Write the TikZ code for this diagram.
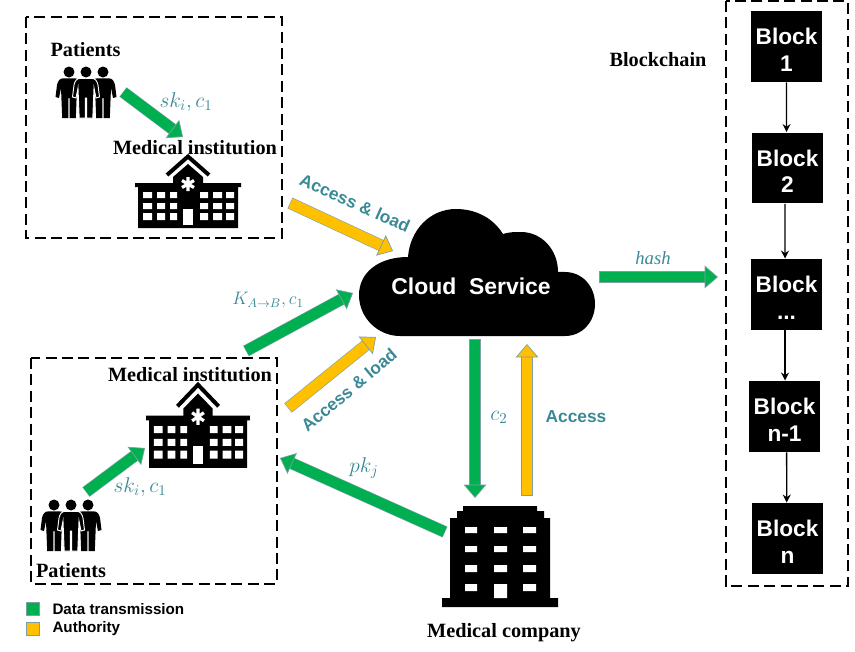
\documentclass[tikz,border=0pt]{standalone}
\usepackage{fix-cm}
\usepackage{fontspec}
\setmainfont{Liberation Serif}
\setsansfont{Liberation Sans}
\usetikzlibrary{arrows.meta}

\definecolor{flowgreen}{RGB}{0,176,80}
\definecolor{flowamber}{RGB}{255,192,0}
\definecolor{flowedge}{RGB}{127,159,168}
\definecolor{labelteal}{RGB}{58,138,150}

\newcommand{\blocktext}[2]{\rule{0pt}{17pt}#1\\#2}

\tikzset{every picture/.style={line width=0.75pt},
    fatarrow/.style={line width=8pt,color=#1,shorten <=.4pt,
        -{Triangle[length=10pt,width=17pt,fill=#1,color=flowedge,line width=.5pt]},
        preaction={draw=flowedge,line width=8.9pt,shorten >=6pt,shorten <=0pt,arrows=-}},
    dashbox/.style={draw=black,line width=1.4pt,dash pattern=on 8.3pt off 4pt},
    blockbox/.style={fill=black,text=white,font=\sffamily\bfseries\fontsize{17}{20}\selectfont,
        align=center,minimum width=53.2pt,minimum height=53.2pt,inner sep=0pt},
    blocklink/.style={line width=1pt,-{Stealth[length=6pt,width=6pt]}},
    titletext/.style={font=\rmfamily\bfseries\fontsize{15.2}{18}\selectfont,inner sep=0pt},
    tealmath/.style={text=labelteal,font=\fontsize{16}{19}\selectfont,inner sep=0pt},
    tealsans/.style={text=labelteal,font=\sffamily\bfseries\fontsize{13}{15}\selectfont,inner sep=0pt},
    legendtext/.style={font=\sffamily\bfseries\fontsize{11.4}{13}\selectfont,anchor=west,inner sep=0pt},
    legendkey/.style={draw=flowedge,line width=.6pt,minimum size=9.6pt,inner sep=0pt},
    pics/person/.style={code={
        \fill (0,0) circle (5.5);
        \path[#1] (-5.5,6.3) -- (5.5,6.3) .. controls (9.5,6.3) and (11,9) .. (12,13) -- (13.5,25) -- (10,26) -- (8,16) -- (6.8,46) -- (0.6,46) -- (0.6,26) -- (-0.6,26) -- (-0.6,46) -- (-6.8,46) -- (-8,16) -- (-10,26) -- (-13.5,25) -- (-12,13) .. controls (-11,9) and (-9.5,6.3) .. (-5.5,6.3) -- cycle;
    }},
    pics/hospital/.style={code={
        \draw[line width=3pt,miter limit=10] (-21,20) -- (0,1.5) -- (21,20);
        \fill (-15,29) -- (-15,22) -- (0,9) -- (15,22) -- (15,29) -- cycle;
        \fill (-53,28) -- (53,28) -- (53,32) -- (50,32) -- (50,73) -- (-50,73) -- (-50,32) -- (-53,32) -- cycle;
        \draw[white,line width=2.4pt] (0,22) -- (0,36) (-6,25.5) -- (6,32.5) (-6,32.5) -- (6,25.5);
        \fill[white] (-45,37) rectangle (-36,43) (-31,37) rectangle (-23,43) (-18,37) rectangle (-11,43) (12,37) rectangle (20,43) (25,37) rectangle (34,43) (38,37) rectangle (46,43);
        \fill[white] (-45,48) rectangle (-36,54) (-31,48) rectangle (-23,54) (-18,48) rectangle (-11,54) (12,48) rectangle (20,54) (25,48) rectangle (34,54) (38,48) rectangle (46,54);
        \fill[white] (-45,58) rectangle (-36,65) (-31,58) rectangle (-23,65) (-18,58) rectangle (-11,65) (12,58) rectangle (20,65) (25,58) rectangle (34,65) (38,58) rectangle (46,65);
        \fill[white] (-5,54) rectangle (5,70);
    }},
}

\begin{document}
\begin{tikzpicture}[x=0.75pt,y=0.75pt,yscale=-1,xscale=1]
    \useasboundingbox (0,0) rectangle (855,651);

    %Dashed frames
    \draw[dashbox] (26,17) rectangle (282,238);
    \draw[dashbox] (31,358) rectangle (277,584);
    \draw[dashbox] (726,1) rectangle (848,586);

    %Cloud
    \fill (400,336) .. controls (378,336) and (359,318) .. (359,295) .. controls (359,273) and (378,257) .. (408,257) .. controls (410,230) and (430,209) .. (456,209) .. controls (476,209) and (493,218) .. (503,234) .. controls (509,232) and (515,232) .. (521,232) .. controls (542,232) and (558,250) .. (558,272) .. controls (561,271.5) and (563,272) .. (565,272) .. controls (582,272) and (595,286) .. (595,304) .. controls (595,322) and (582,336) .. (565,336) -- cycle;
    \node[text=white,font=\sffamily\bfseries\fontsize{17.2}{20}\selectfont,inner sep=0pt] (cloudtxt) at (471,286) {Cloud\ \ Service};

    %Icons
    \pic[yscale=-1] at (69,72) {person={fill=black}};
    \pic[yscale=-1] at (103,72) {person={fill=black}};
    \pic[yscale=-1] at (86,72) {person={fill=black,draw=white,line width=.7pt}};
    \pic[yscale=-1] at (54,505) {person={fill=black}};
    \pic[yscale=-1] at (88,505) {person={fill=black}};
    \pic[yscale=-1] at (71,505) {person={fill=black,draw=white,line width=.7pt}};
    \pic[yscale=-1] at (188,155) {hospital};
    \pic[yscale=-1.164,xscale=.98] at (198,383) {hospital};

    %Company building
    \fill (442,598) -- (450,598) -- (450,518) -- (457,518) -- (457,511) -- (463,511) -- (463,506) -- (537,506) -- (537,511) -- (544,511) -- (544,518) -- (550,518) -- (550,598) -- (558,598) -- (558,607) -- (442,607) -- cycle;
    \fill[white] (465,527) rectangle (477,533) (494,527) rectangle (507,533) (523,527) rectangle (536,533);
    \fill[white] (465,546) rectangle (477,552) (494,546) rectangle (507,552) (523,546) rectangle (536,552);
    \fill[white] (465,565) rectangle (477,572) (494,565) rectangle (507,572) (523,565) rectangle (536,572);
    \fill[white] (465,584) rectangle (477,591) (494,584) rectangle (507,598) (523,584) rectangle (536,591);

    %Block nodes
    \node[blockbox] (block1) at (786.5,46.5) {\blocktext{Block}{1}};
    \node[blockbox] (block2) at (787.5,168) {\blocktext{Block}{2}};
    \node[blockbox] (block3) at (786.5,294.5) {\blocktext{Block}{...}};
    \node[blockbox] (block4) at (784.5,416.5) {\blocktext{Block}{n-1}};
    \node[blockbox] (block5) at (787.5,538.5) {\blocktext{Block}{n}};

    %Block links
    \draw[blocklink] (block1.south) -- ([xshift=-.7pt]block2.north);
    \draw[blocklink] ([xshift=-1.9pt]block2.south) -- ([xshift=-1.1pt]block3.north);
    \draw[blocklink] ([xshift=-1.1pt]block3.south) -- ([xshift=.4pt]block4.north);
    \draw[blocklink] ([xshift=1.6pt]block4.south) -- ([xshift=-.6pt]block5.north);

    %Flow end points
    \coordinate (patA) at (123,92);
    \coordinate (hospA) at (183,137);
    \coordinate (upauthtail) at (290,203);
    \coordinate (upauthtip) at (393,251);
    \coordinate (keytail) at (246,351);
    \coordinate (keytip) at (353,293);
    \coordinate (lowauthtail) at (288,408);
    \coordinate (lowauthtip) at (376,337);
    \coordinate (downtail) at (475,339);
    \coordinate (downtip) at (475,498);
    \coordinate (uptail) at (527,496);
    \coordinate (uptip) at (527,344);
    \coordinate (pktail) at (445,532);
    \coordinate (pktip) at (280,458);
    \coordinate (patB) at (86,492);
    \coordinate (hospB) at (145,448);
    \coordinate (hashtail) at (599,277);
    \coordinate (hashtip) at (718,277);

    %Flows
    \draw[fatarrow=flowgreen] (patA) -- (hospA);
    \draw[fatarrow=flowamber] (upauthtail) -- (upauthtip);
    \draw[fatarrow=flowgreen] (keytail) -- (keytip);
    \draw[fatarrow=flowamber] (lowauthtail) -- (lowauthtip);
    \draw[fatarrow=flowgreen] (downtail) -- (downtip);
    \draw[fatarrow=flowamber] (uptail) -- (uptip);
    \draw[fatarrow=flowgreen] (pktail) -- (pktip);
    \draw[fatarrow=flowgreen] (patB) -- (hospB);
    \draw[fatarrow=flowgreen] (hashtail) -- (hashtip);

    %Titles
    \node[titletext] (patientsA) at (85.5,50) {Patients};
    \node[titletext] (instA) at (195,148) {Medical institution};
    \node[titletext] (instB) at (190,375) {Medical institution};
    \node[titletext] (patientsB) at (71,571) {Patients};
    \node[titletext] (company) at (504,633) {Medical company};
    \node[titletext] (chain) at (658,60) {Blockchain};

    %Flow labels
    \node[tealmath] (skA) at (186,102) {$sk_i,c_1$};
    \node[tealmath] (skB) at (140,487) {$sk_i,c_1$};
    \node[tealmath,font=\fontsize{13.5}{16}\selectfont] (keylbl) at (268,300) {$K_{A\rightarrow B},c_1$};
    \node[tealmath] (pklbl) at (364,468) {$pk_j$};
    \node[tealmath] (clbl) at (499,417) {$c_2$};
    \node[text=labelteal,font=\rmfamily\itshape\fontsize{14}{17}\selectfont,inner sep=0pt] (hashlbl) at (653,258) {hash};
    \node[tealsans,rotate=-24] (authA) at (355,203) {Access \& load};
    \node[tealsans,rotate=40] (authB) at (349,390) {Access \& load};
    \node[tealsans] (acclbl) at (576,417) {Access};

    %Legend
    \node[legendkey,fill=flowgreen] (keygreen) at (32.5,609) {};
    \node[legendkey,fill=flowamber] (keyamber) at (32.5,629) {};
    \node[legendtext] (legdata) at (52,609) {Data transmission};
    \node[legendtext] (legauth) at (52,629) {Authority};

\end{tikzpicture}
\end{document}
